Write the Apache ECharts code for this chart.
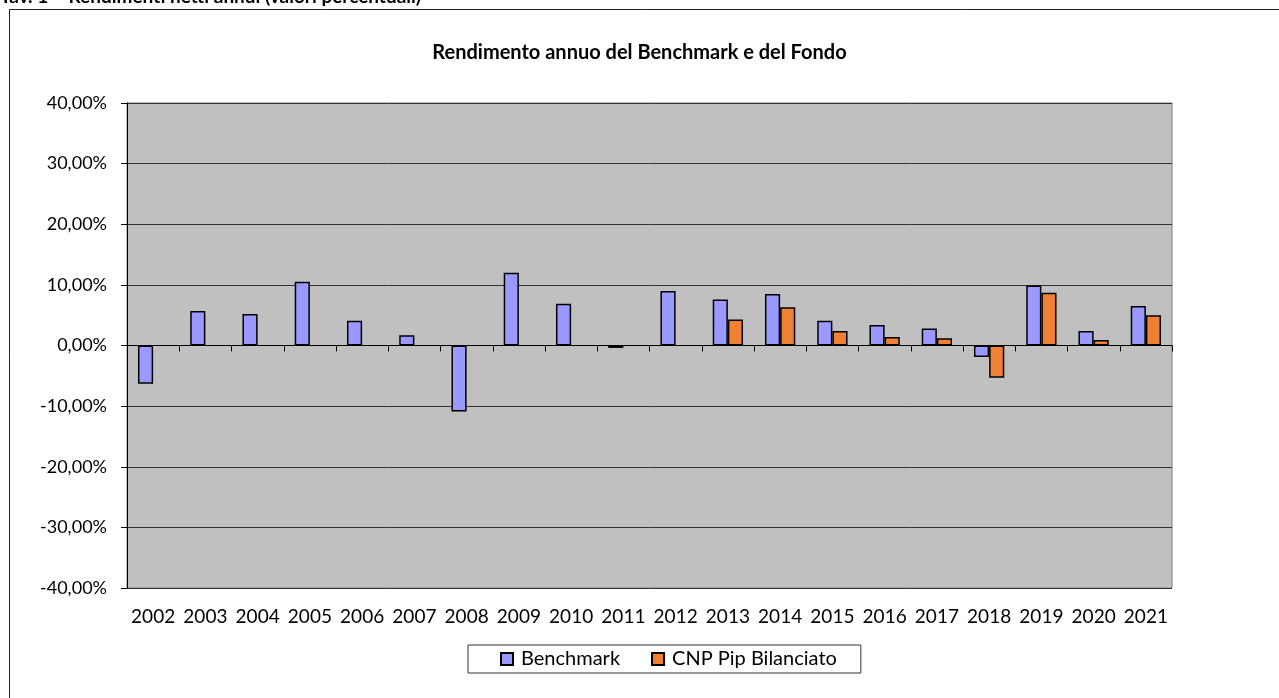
<!DOCTYPE html>
<html>
<head>
<meta charset="utf-8">
<title>Rendimento annuo del Benchmark e del Fondo</title>
<script src="https://cdn.jsdelivr.net/npm/echarts@6/dist/echarts.min.js"></script>
<style>
  html, body { margin: 0; padding: 0; background: #fff; }
  #chart { width: 1279px; height: 698px; }
</style>
</head>
<body>
<div id="chart"></div>
<script>
// dati
const years = ['2002', '2003', '2004', '2005', '2006', '2007', '2008', '2009', '2010', '2011',
  '2012', '2013', '2014', '2015', '2016', '2017', '2018', '2019', '2020', '2021']
const benchmark = [-6.3, 5.7, 5.2, 10.5, 4.1, 1.7, -10.9, 12.0, 6.9, -0.4,
  9.0, 7.6, 8.5, 4.1, 3.4, 2.8, -1.9, 9.9, 2.4, 6.5]
const fondo = [null, null, null, null, null, null, null, null, null, null,
  null, 4.3, 6.3, 2.4, 1.4, 1.2, -5.3, 8.7, 0.9, 5.0]
const seriesNames = ['Benchmark', 'CNP Pip Bilanciato']
const yMin = -40
const yMax = 40
const yStep = 10

const font = 'Lato, "Open Sans", sans-serif'

const chart = echarts.init(document.getElementById('chart'))

const fmtPct = v => v.toFixed(2).replace('.', ',') + '%'

const option = {
  animation: false,
  backgroundColor: '#fff',
  textStyle: { fontFamily: font },
  title: {
    text: 'Rendimento annuo del Benchmark e del Fondo',
    left: 'center',
    top: 38,
    textStyle: { fontFamily: font, fontSize: 20, fontWeight: 'bold', color: '#000' }
  },
  graphic: [
    {
      type: 'rect',
      shape: { x: 9.5, y: 9.5, width: 1300, height: 720 },
      style: { fill: 'none', stroke: '#222', lineWidth: 1 },
      silent: true
    },
    {
      type: 'text',
      left: 0,
      top: -13,
      style: {
        text: 'Tav. 1 – Rendimenti netti annui (valori percentuali)',
        font: 'bold 19px ' + font,
        fill: '#000'
      },
      silent: true
    }
  ],
  legend: {
    data: seriesNames,
    left: 468,
    top: 645,
    itemWidth: 12,
    itemHeight: 12,
    itemGap: 31,
    padding: [4, 24, 4, 32],
    borderColor: '#333',
    borderWidth: 1,
    textStyle: { fontFamily: font, fontSize: 20, color: '#000', padding: [0, 0, 0, 3] },
    icon: 'rect'
  },
  grid: {
    left: 127,
    right: 107,
    top: 103,
    bottom: 110,
    show: true,
    backgroundColor: '#c0c0c0',
    borderColor: '#808080',
    borderWidth: 1
  },
  xAxis: [
    {
      // etichette in basso
      type: 'category',
      data: years,
      position: 'bottom',
      axisLine: { show: false, onZero: false },
      axisTick: { show: false },
      axisLabel: { fontFamily: font, fontSize: 19, color: '#000', margin: 19, interval: 0 }
    },
    {
      // asse sullo zero con le tacche
      type: 'category',
      data: years,
      position: 'bottom',
      axisLine: { show: true, onZero: true, lineStyle: { color: '#000', width: 1 } },
      axisTick: { show: true, length: 6, interval: 0, lineStyle: { color: '#000' } },
      axisLabel: { show: false }
    }
  ],
  yAxis: {
    type: 'value',
    min: yMin,
    max: yMax,
    interval: yStep,
    axisLine: { show: true, lineStyle: { color: '#000', width: 1 } },
    axisTick: { show: true, length: 6, lineStyle: { color: '#000' } },
    axisLabel: {
      fontFamily: font,
      fontSize: 18,
      color: '#000',
      margin: 20,
      formatter: fmtPct
    },
    splitLine: { show: true, lineStyle: { color: '#333', width: 1 } }
  },
  series: [
    {
      name: seriesNames[0],
      type: 'bar',
      xAxisIndex: 0,
      data: benchmark,
      barGap: '0%',
      barCategoryGap: '42%',
      itemStyle: { color: '#9999ff', borderColor: '#000', borderWidth: 1.5 }
    },
    {
      name: seriesNames[1],
      type: 'bar',
      xAxisIndex: 0,
      data: fondo,
      itemStyle: { color: '#f08034', borderColor: '#000', borderWidth: 1.5 }
    }
  ]
}

chart.setOption(option)
window.addEventListener('resize', () => chart.resize())
</script>
</body>
</html>
